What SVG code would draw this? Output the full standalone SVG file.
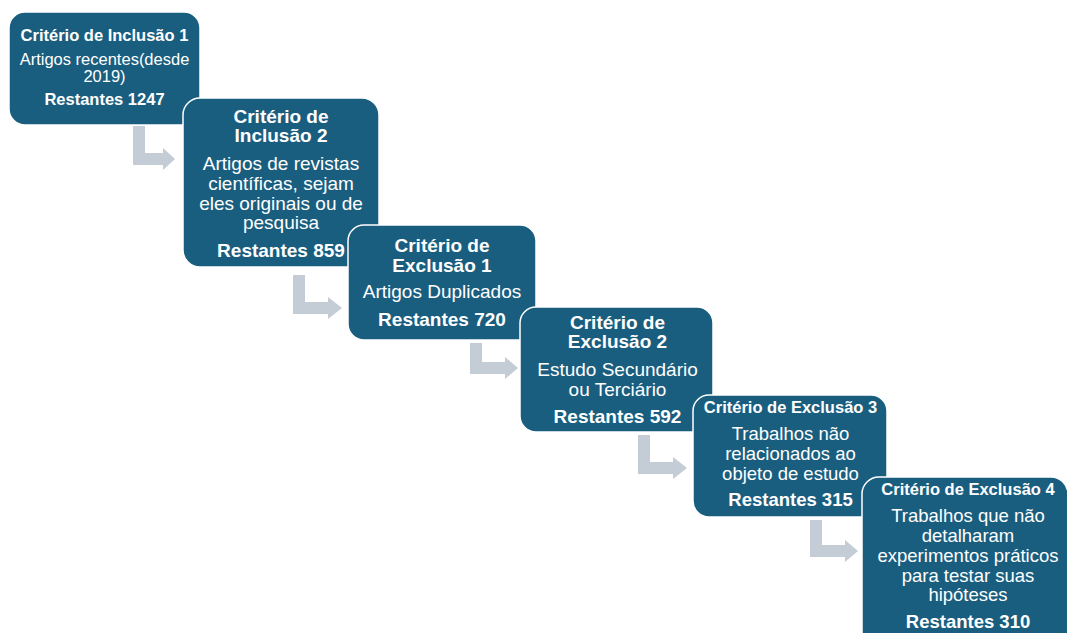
<svg xmlns="http://www.w3.org/2000/svg" width="1067" height="633" viewBox="0 0 1067 633">
<style>
.box{fill:#1a5e7f;stroke:#ffffff;stroke-width:1.5}
.arr{fill:#c4ccd5}
text{font-family:"Liberation Sans",Arial,sans-serif;fill:#ffffff;text-anchor:middle}
.b{font-weight:bold}
.s1{font-size:16.5px}
.s2{font-size:19px}
.s3{font-size:18.5px}
</style>
<rect width="1067" height="633" fill="#ffffff"/>
<g id="connectors">
<path class="arr" d="M133,126 H145 V153 H163 V148 L175,159 L163,170 V165 H133 Z"/>
<path class="arr" d="M293,275 H305 V302 H328 V297 L342,308 L328,319 V314 H293 Z"/>
<path class="arr" d="M470,343 H482 V362 H505 V357 L518,368 L505,379 V374 H470 Z"/>
<path class="arr" d="M638,435 H650 V462 H673 V457 L687,468 L673,479 V474 H638 Z"/>
<path class="arr" d="M810,520 H822 V545 H845 V540 L858,551 L845,562 V557 H810 Z"/>
</g>
<g id="node1">
<rect class="box" x="9" y="12" width="191" height="113" rx="16"/>
<text class="b s1" x="104.5" y="41">Critério de Inclusão 1</text>
<text class="s1" x="104.5" y="65">Artigos recentes(desde</text>
<text class="s1" x="104.5" y="82">2019)</text>
<text class="b s1" x="104.5" y="105">Restantes 1247</text>
</g>
<g id="node2">
<rect class="box" x="183" y="98" width="196" height="169" rx="17"/>
<text class="b s2" x="281" y="123">Critério de</text>
<text class="b s2" x="281" y="142">Inclusão 2</text>
<text class="s2" x="281" y="170">Artigos de revistas</text>
<text class="s2" x="281" y="190">científicas, sejam</text>
<text class="s2" x="281" y="210">eles originais ou de</text>
<text class="s2" x="281" y="229">pesquisa</text>
<text class="b s2" x="281" y="257">Restantes 859</text>
</g>
<g id="node3">
<rect class="box" x="348" y="225" width="188" height="115" rx="16"/>
<text class="b s2" x="442" y="252">Critério de</text>
<text class="b s2" x="442" y="272">Exclusão 1</text>
<text class="s2" x="442" y="298">Artigos Duplicados</text>
<text class="b s2" x="442" y="326">Restantes 720</text>
</g>
<g id="node4">
<rect class="box" x="520" y="307" width="193" height="125" rx="16"/>
<text class="b s2" x="617.5" y="329">Critério de</text>
<text class="b s2" x="617.5" y="348">Exclusão 2</text>
<text class="s2" x="617.5" y="376">Estudo Secundário</text>
<text class="s2" x="617.5" y="396">ou Terciário</text>
<text class="b s2" x="617.5" y="423">Restantes 592</text>
</g>
<g id="node5">
<rect class="box" x="693" y="395" width="194" height="122" rx="16"/>
<text class="b s1" x="790.5" y="413">Critério de Exclusão 3</text>
<text class="s3" x="790.5" y="440">Trabalhos não</text>
<text class="s3" x="790.5" y="460">relacionados ao</text>
<text class="s3" x="790.5" y="480">objeto de estudo</text>
<text class="b s3" x="790.5" y="506">Restantes 315</text>
</g>
<g id="node6">
<rect class="box" x="862" y="477" width="206" height="172" rx="17"/>
<text class="b s1" x="968" y="495">Critério de Exclusão 4</text>
<text class="s3" x="968" y="522">Trabalhos que não</text>
<text class="s3" x="968" y="542">detalharam</text>
<text class="s3" x="968" y="562">experimentos práticos</text>
<text class="s3" x="968" y="582">para testar suas</text>
<text class="s3" x="968" y="601">hipóteses</text>
<text class="b s3" x="968" y="628">Restantes 310</text>
</g>
</svg>
